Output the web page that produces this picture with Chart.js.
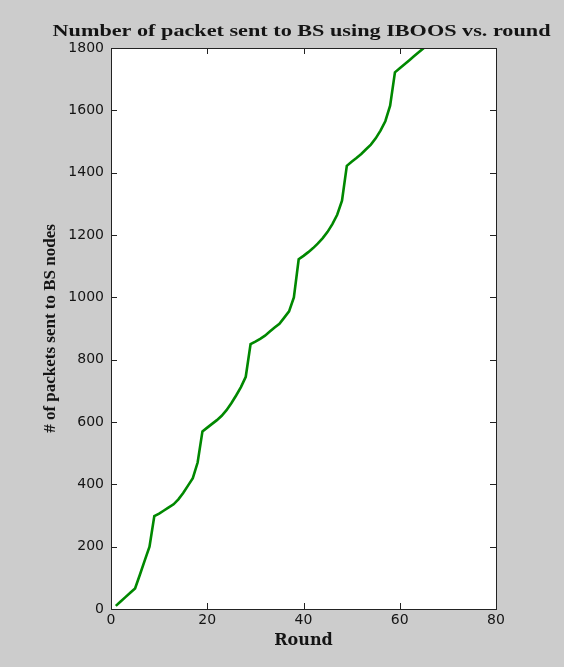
<!DOCTYPE html>
<html>
<head>
<meta charset="utf-8">
<script src="https://cdn.jsdelivr.net/npm/chart.js@4.4.1/dist/chart.umd.min.js"></script>
<style>
  html, body { margin: 0; padding: 0; background: #cccccc; }
  #wrap { width: 564px; height: 667px; }
</style>
</head>
<body>
<div id="wrap"><canvas id="c" width="564" height="667"></canvas></div>
<script>
// Rounds (x) and cumulative packets delivered to the base station (y)
const rounds = [
  1, 2, 3, 4, 5, 6, 7, 8, 9,
  10, 11, 12, 13, 14, 15, 16, 17, 18, 19,
  20, 21, 22, 23, 24, 25, 26, 27, 28, 29,
  30, 31, 32, 33, 34, 35, 36, 37, 38, 39,
  40, 41, 42, 43, 44, 45, 46, 47, 48, 49,
  50, 51, 52, 53, 54, 55, 56, 57, 58, 59,
  60, 61, 62, 63, 64, 65
];
const packets = [
  10, 24, 38, 52, 66, 110, 155, 200, 298,
  306, 316, 326, 336, 352, 372, 396, 420, 470, 570,
  582, 594, 606, 620, 638, 660, 685, 712, 745, 850,
  858, 867, 877, 890, 903, 915, 935, 955, 1000, 1122,
  1133, 1145, 1158, 1173, 1190, 1210, 1235, 1265, 1310, 1422,
  1435, 1447, 1460, 1475, 1490, 1510, 1535, 1565, 1615, 1722,
  1735, 1748, 1761, 1774, 1787, 1800
];
const xTicks = [0, 20, 40, 60, 80];
const yTicks = [0, 200, 400, 600, 800, 1000, 1200, 1400, 1600, 1800];

const TITLE = 'Number of packet sent to BS using IBOOS vs. round';
const TEXT = '#141414';
const FRAME = '#222222';

// Gray figure background, white axes box, black frame with inward tick marks,
// and the figure title centred over the axes box
const axesBox = {
  id: 'axesBox',
  beforeDraw(chart) {
    const { ctx, chartArea: a } = chart;
    ctx.save();
    ctx.fillStyle = '#cccccc';
    ctx.fillRect(0, 0, chart.width, chart.height);
    ctx.fillStyle = '#ffffff';
    ctx.fillRect(a.left, a.top, a.right - a.left, a.bottom - a.top);
    ctx.restore();
  },
  afterDatasetsDraw(chart) {
    const { ctx, chartArea: a, scales } = chart;
    const len = 6;
    ctx.save();
    ctx.strokeStyle = FRAME;
    ctx.lineWidth = 1;
    ctx.beginPath();
    scales.x.ticks.forEach(t => {
      const px = Math.round(scales.x.getPixelForValue(t.value)) + 0.5;
      ctx.moveTo(px, a.bottom); ctx.lineTo(px, a.bottom - len);
      ctx.moveTo(px, a.top); ctx.lineTo(px, a.top + len);
    });
    scales.y.ticks.forEach(t => {
      const py = Math.round(scales.y.getPixelForValue(t.value)) + 0.5;
      ctx.moveTo(a.left, py); ctx.lineTo(a.left + len, py);
      ctx.moveTo(a.right, py); ctx.lineTo(a.right - len, py);
    });
    ctx.stroke();
    ctx.strokeRect(Math.round(a.left) + 0.5, Math.round(a.top) + 0.5,
                   Math.round(a.right - a.left), Math.round(a.bottom - a.top));
    ctx.restore();
  },
  afterDraw(chart) {
    const { ctx, chartArea: a } = chart;
    ctx.save();
    ctx.font = 'bold 17px "Liberation Serif"';
    ctx.fillStyle = TEXT;
    ctx.textAlign = 'center';
    ctx.textBaseline = 'alphabetic';
    const w = ctx.measureText(TITLE).width;
    const sx = 498 / w;
    ctx.translate((a.left + a.right) / 2 - 2, 36);
    ctx.scale(sx, 1);
    ctx.fillText(TITLE, 0, 0);
    ctx.restore();
  }
};

new Chart(document.getElementById('c'), {
  type: 'line',
  data: {
    datasets: [{
      data: rounds.map((r, i) => ({ x: r, y: packets[i] })),
      borderColor: '#008800',
      borderWidth: 2.6,
      pointRadius: 0,
      tension: 0,
      fill: false
    }]
  },
  options: {
    responsive: false,
    animation: false,
    devicePixelRatio: 1,
    layout: { padding: { top: 48, left: 0, right: 68, bottom: 0 } },
    plugins: {
      legend: { display: false },
      tooltip: { enabled: false },
      title: { display: false }
    },
    scales: {
      x: {
        type: 'linear',
        min: 0,
        max: 80,
        afterBuildTicks: s => { s.ticks = xTicks.map(v => ({ value: v })); },
        afterFit: s => { s.height = 58; },
        grid: { display: false, drawTicks: false },
        border: { display: false },
        ticks: {
          padding: 3,
          color: TEXT,
          font: { family: 'DejaVu Sans', size: 14 },
          callback: v => String(v)
        },
        title: {
          display: true,
          text: 'Round',
          color: TEXT,
          font: { family: 'DejaVu Serif', weight: 'bold', size: 16 },
          padding: { top: 0, bottom: 17 }
        }
      },
      y: {
        type: 'linear',
        min: 0,
        max: 1800,
        afterBuildTicks: s => { s.ticks = yTicks.map(v => ({ value: v })); },
        afterFit: s => { s.width = 111; },
        grid: { display: false, drawTicks: false },
        border: { display: false },
        ticks: {
          padding: 7,
          color: TEXT,
          font: { family: 'DejaVu Sans', size: 14 },
          callback: v => String(v)
        },
        title: {
          display: true,
          text: '# of packets sent to BS nodes',
          color: TEXT,
          font: { family: 'Liberation Serif', weight: 'bold', size: 17 },
          padding: { top: 40, bottom: 0 }
        }
      }
    }
  },
  plugins: [axesBox]
});
</script>
</body>
</html>
